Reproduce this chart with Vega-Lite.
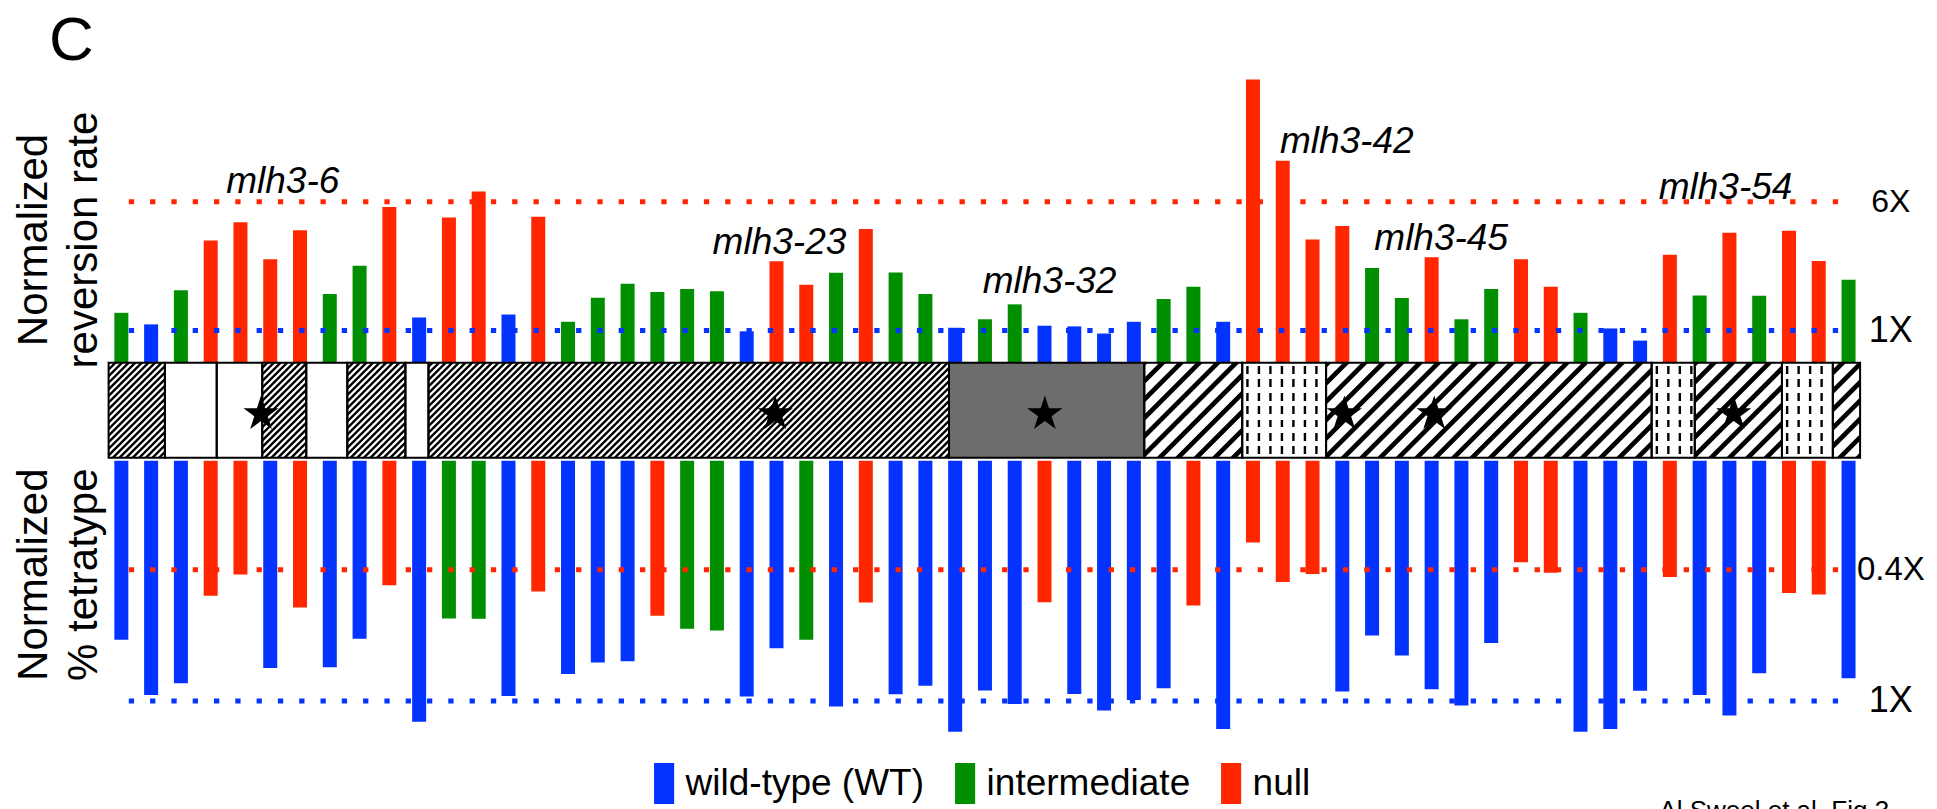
{
  "$schema": "https://vega.github.io/schema/vega-lite/v6.json",
  "background": "white",
  "autosize": {"type": "none"},
  "padding": {"left": 108.6, "top": 72.7, "right": 1828.4, "bottom": 736.3},
  "config": {
    "view": {"stroke": null},
    "font": "Liberation Sans",
    "text": {"font": "Liberation Sans", "color": "black"}
  },
  "datasets": {
    "alleles": [
      {"allele": 1, "rev": 1.28, "revClass": "intermediate", "tet": 0.653, "tetClass": "wild-type (WT)"},
      {"allele": 2, "rev": 1.09, "revClass": "wild-type (WT)", "tet": 0.959, "tetClass": "wild-type (WT)"},
      {"allele": 3, "rev": 1.75, "revClass": "intermediate", "tet": 0.884, "tetClass": "wild-type (WT)"},
      {"allele": 4, "rev": 3.50, "revClass": "null", "tet": 0.480, "tetClass": "null"},
      {"allele": 5, "rev": 4.50, "revClass": "null", "tet": 0.414, "tetClass": "null"},
      {"allele": 6, "rev": 2.69, "revClass": "null", "tet": 0.795, "tetClass": "wild-type (WT)"},
      {"allele": 7, "rev": 4.03, "revClass": "null", "tet": 0.521, "tetClass": "null"},
      {"allele": 8, "rev": 1.66, "revClass": "intermediate", "tet": 0.790, "tetClass": "wild-type (WT)"},
      {"allele": 9, "rev": 2.46, "revClass": "intermediate", "tet": 0.648, "tetClass": "wild-type (WT)"},
      {"allele": 10, "rev": 5.57, "revClass": "null", "tet": 0.446, "tetClass": "null"},
      {"allele": 11, "rev": 1.20, "revClass": "wild-type (WT)", "tet": 1.156, "tetClass": "wild-type (WT)"},
      {"allele": 12, "rev": 4.82, "revClass": "null", "tet": 0.563, "tetClass": "intermediate"},
      {"allele": 13, "rev": 6.90, "revClass": "null", "tet": 0.564, "tetClass": "intermediate"},
      {"allele": 14, "rev": 1.25, "revClass": "wild-type (WT)", "tet": 0.966, "tetClass": "wild-type (WT)"},
      {"allele": 15, "rev": 4.87, "revClass": "null", "tet": 0.466, "tetClass": "null"},
      {"allele": 16, "rev": 1.13, "revClass": "intermediate", "tet": 0.828, "tetClass": "wild-type (WT)"},
      {"allele": 17, "rev": 1.58, "revClass": "intermediate", "tet": 0.765, "tetClass": "wild-type (WT)"},
      {"allele": 18, "rev": 1.92, "revClass": "intermediate", "tet": 0.758, "tetClass": "wild-type (WT)"},
      {"allele": 19, "rev": 1.71, "revClass": "intermediate", "tet": 0.552, "tetClass": "null"},
      {"allele": 20, "rev": 1.78, "revClass": "intermediate", "tet": 0.604, "tetClass": "intermediate"},
      {"allele": 21, "rev": 1.73, "revClass": "intermediate", "tet": 0.612, "tetClass": "intermediate"},
      {"allele": 22, "rev": 0.99, "revClass": "wild-type (WT)", "tet": 0.970, "tetClass": "wild-type (WT)"},
      {"allele": 23, "rev": 2.62, "revClass": "null", "tet": 0.692, "tetClass": "wild-type (WT)"},
      {"allele": 24, "rev": 1.89, "revClass": "null", "tet": 0.653, "tetClass": "intermediate"},
      {"allele": 25, "rev": 2.23, "revClass": "intermediate", "tet": 1.040, "tetClass": "wild-type (WT)"},
      {"allele": 26, "rev": 4.10, "revClass": "null", "tet": 0.503, "tetClass": "null"},
      {"allele": 27, "rev": 2.24, "revClass": "intermediate", "tet": 0.954, "tetClass": "wild-type (WT)"},
      {"allele": 28, "rev": 1.66, "revClass": "intermediate", "tet": 0.900, "tetClass": "wild-type (WT)"},
      {"allele": 29, "rev": 1.04, "revClass": "wild-type (WT)", "tet": 1.239, "tetClass": "wild-type (WT)"},
      {"allele": 30, "rev": 1.17, "revClass": "intermediate", "tet": 0.930, "tetClass": "wild-type (WT)"},
      {"allele": 31, "rev": 1.44, "revClass": "intermediate", "tet": 1.021, "tetClass": "wild-type (WT)"},
      {"allele": 32, "rev": 1.07, "revClass": "wild-type (WT)", "tet": 0.502, "tetClass": "null"},
      {"allele": 33, "rev": 1.06, "revClass": "wild-type (WT)", "tet": 0.953, "tetClass": "wild-type (WT)"},
      {"allele": 34, "rev": 0.96, "revClass": "wild-type (WT)", "tet": 1.070, "tetClass": "wild-type (WT)"},
      {"allele": 35, "rev": 1.13, "revClass": "wild-type (WT)", "tet": 0.993, "tetClass": "wild-type (WT)"},
      {"allele": 36, "rev": 1.55, "revClass": "intermediate", "tet": 0.915, "tetClass": "wild-type (WT)"},
      {"allele": 37, "rev": 1.84, "revClass": "intermediate", "tet": 0.514, "tetClass": "null"},
      {"allele": 38, "rev": 1.13, "revClass": "wild-type (WT)", "tet": 1.216, "tetClass": "wild-type (WT)"},
      {"allele": 39, "rev": 32.8, "revClass": "null", "tet": 0.331, "tetClass": "null"},
      {"allele": 40, "rev": 10.6, "revClass": "null", "tet": 0.436, "tetClass": "null"},
      {"allele": 41, "rev": 3.54, "revClass": "null", "tet": 0.412, "tetClass": "null"},
      {"allele": 42, "rev": 4.28, "revClass": "null", "tet": 0.937, "tetClass": "wild-type (WT)"},
      {"allele": 43, "rev": 2.39, "revClass": "intermediate", "tet": 0.633, "tetClass": "wild-type (WT)"},
      {"allele": 44, "rev": 1.57, "revClass": "intermediate", "tet": 0.728, "tetClass": "wild-type (WT)"},
      {"allele": 45, "rev": 2.77, "revClass": "null", "tet": 0.921, "tetClass": "wild-type (WT)"},
      {"allele": 46, "rev": 1.17, "revClass": "intermediate", "tet": 1.033, "tetClass": "wild-type (WT)"},
      {"allele": 47, "rev": 1.78, "revClass": "intermediate", "tet": 0.668, "tetClass": "wild-type (WT)"},
      {"allele": 48, "rev": 2.69, "revClass": "null", "tet": 0.380, "tetClass": "null"},
      {"allele": 49, "rev": 1.84, "revClass": "null", "tet": 0.409, "tetClass": "null"},
      {"allele": 50, "rev": 1.28, "revClass": "intermediate", "tet": 1.239, "tetClass": "wild-type (WT)"},
      {"allele": 51, "rev": 1.03, "revClass": "wild-type (WT)", "tet": 1.216, "tetClass": "wild-type (WT)"},
      {"allele": 52, "rev": 0.87, "revClass": "wild-type (WT)", "tet": 0.932, "tetClass": "wild-type (WT)"},
      {"allele": 53, "rev": 2.87, "revClass": "null", "tet": 0.421, "tetClass": "null"},
      {"allele": 54, "rev": 1.63, "revClass": "intermediate", "tet": 0.959, "tetClass": "wild-type (WT)"},
      {"allele": 55, "rev": 3.90, "revClass": "null", "tet": 1.108, "tetClass": "wild-type (WT)"},
      {"allele": 56, "rev": 1.62, "revClass": "intermediate", "tet": 0.824, "tetClass": "wild-type (WT)"},
      {"allele": 57, "rev": 4.01, "revClass": "null", "tet": 0.471, "tetClass": "null"},
      {"allele": 58, "rev": 2.63, "revClass": "null", "tet": 0.476, "tetClass": "null"},
      {"allele": 59, "rev": 2.03, "revClass": "intermediate", "tet": 0.853, "tetClass": "wild-type (WT)"}
    ],
    "levels": [
      {"measure": "rev", "fold": 6, "label": "6X", "ref": "null"},
      {"measure": "rev", "fold": 1, "label": "1X", "ref": "wild-type (WT)"},
      {"measure": "tet", "fold": 0.4, "label": "0.4X", "ref": "null"},
      {"measure": "tet", "fold": 1, "label": "1X", "ref": "wild-type (WT)"}
    ],
    "tags": [
      {"name": "mlh3-6", "pos": 6.42, "level": 6.79},
      {"name": "mlh3-23", "pos": 23.1, "level": 2.9},
      {"name": "mlh3-32", "pos": 32.17, "level": 1.69},
      {"name": "mlh3-42", "pos": 42.15, "level": 11.8},
      {"name": "mlh3-45", "pos": 45.32, "level": 3.05},
      {"name": "mlh3-54", "pos": 54.87, "level": 6.24}
    ],
    "domains": [
      {"start": 0.74, "end": 2.62, "kind": "fine"},
      {"start": 2.62, "end": 4.35, "kind": "open"},
      {"start": 4.35, "end": 5.87, "kind": "open"},
      {"start": 5.87, "end": 7.34, "kind": "fine"},
      {"start": 7.34, "end": 8.71, "kind": "open"},
      {"start": 8.71, "end": 10.65, "kind": "fine"},
      {"start": 10.65, "end": 11.42, "kind": "open"},
      {"start": 11.42, "end": 28.8, "kind": "fine"},
      {"start": 28.8, "end": 35.32, "kind": "solid"},
      {"start": 35.32, "end": 38.59, "kind": "coarse"},
      {"start": 38.59, "end": 41.39, "kind": "dashed"},
      {"start": 41.39, "end": 52.26, "kind": "coarse"},
      {"start": 52.26, "end": 53.7, "kind": "dashed"},
      {"start": 53.7, "end": 56.61, "kind": "coarse"},
      {"start": 56.61, "end": 58.31, "kind": "dashed"},
      {"start": 58.31, "end": 59.22, "kind": "coarse"}
    ],
    "sites": [
      {"pos": 5.83}, {"pos": 23.0}, {"pos": 32.0}, {"pos": 42.0}, {"pos": 45.0}, {"pos": 55.0}
    ]
  },
  "bounds": "flush",
  "spacing": 0,
  "resolve": {"scale": {"x": "independent", "y": "independent", "color": "shared"}},
  "vconcat": [
    {
      "width": 1751.5,
      "height": 290,
      "title": {
        "text": "C",
        "orient": "top",
        "anchor": "start",
        "frame": "group",
        "font": "Liberation Sans",
        "fontSize": 62,
        "fontWeight": "normal",
        "color": "black",
        "baseline": "alphabetic",
        "dx": -59.6,
        "offset": -48.9
      },
      "layer": [
        {
          "data": {"name": "alleles"},
          "mark": {"type": "bar", "size": 14},
          "encoding": {
            "x": {"field": "allele", "type": "quantitative", "scale": {"domain": [0.74, 59.22], "nice": false, "zero": false}, "axis": null},
            "y": {
              "field": "rev", "type": "quantitative",
              "scale": {"type": "log", "domain": [0.64, 36], "nice": false},
              "axis": {
                "title": ["Normalized", "reversion rate"],
                "labels": false, "ticks": false, "domain": false, "grid": false,
                "titleFont": "Liberation Sans", "titleFontSize": 42, "titleFontWeight": "normal", "titleColor": "black",
                "titleLineHeight": 50.7, "titleAngle": 270, "titleAlign": "center", "titleBaseline": "alphabetic",
                "titleX": -62.6, "titleY": 166.8
              }
            },
            "y2": {"datum": 0.64},
            "color": {
              "field": "revClass", "type": "nominal",
              "scale": {"domain": ["wild-type (WT)", "intermediate", "null"], "range": ["#0433FF", "#008F00", "#FF2600"]},
              "legend": {
                "title": null, "orient": "none", "direction": "horizontal", "legendX": 535, "legendY": 690.3,
                "padding": 0, "symbolType": "M-0.49,-1H0.49V1H-0.49Z", "symbolSize": 1681, "symbolStrokeWidth": 0,
                "labelFont": "Liberation Sans", "labelFontSize": 37, "labelColor": "black", "labelOffset": 1,
                "columnPadding": 20, "labelLimit": 400
              }
            }
          }
        },
        {
          "data": {"name": "levels"},
          "transform": [{"filter": "datum.measure === 'rev'"}],
          "mark": {"type": "rule", "strokeWidth": 5, "strokeDash": [5.3, 16]},
          "encoding": {
            "x": {"datum": 1.25},
            "x2": {"datum": 59.05},
            "y": {"field": "fold", "type": "quantitative"},
            "color": {"field": "ref", "type": "nominal", "legend": null}
          }
        },
        {
          "data": {"name": "levels"},
          "transform": [{"filter": "datum.measure === 'rev'"}],
          "mark": {"type": "text", "align": "center", "baseline": "middle", "font": "Liberation Sans"},
          "encoding": {
            "x": {"datum": 60.42},
            "y": {"field": "fold", "type": "quantitative"},
            "text": {"field": "label"},
            "size": {"condition": {"test": "datum.label === '1X'", "value": 36}, "value": 32}
          }
        },
        {
          "data": {"name": "tags"},
          "mark": {"type": "text", "align": "center", "baseline": "alphabetic", "fontStyle": "italic", "fontSize": 37, "font": "Liberation Sans"},
          "encoding": {
            "x": {"field": "pos", "type": "quantitative"},
            "y": {"field": "level", "type": "quantitative"},
            "text": {"field": "name"}
          }
        }
      ]
    },
    {
      "bounds": "flush",
      "spacing": 3,
      "resolve": {"scale": {"x": "independent", "y": "independent", "color": "shared"}},
      "vconcat": [
        {
          "width": 1751.5,
          "height": 95,
          "layer": [
            {
              "data": {"values": [{"pattern": "fine"}]},
              "mark": {"type": "rule", "clip": true, "color": "black", "strokeWidth": 700, "strokeDash": [2.4, 2.27]},
              "encoding": {
                "x": {"datum": 6.603, "type": "quantitative", "scale": {"domain": [0.74, 59.22], "nice": false, "zero": false}, "axis": null},
                "x2": {"datum": 22.917},
                "y": {"datum": 3.072, "type": "quantitative", "scale": {"domain": [0, 1], "nice": false}, "axis": null},
                "y2": {"datum": -2.072}
              }
            },
            {
              "data": {"values": [{"pattern": "coarse"}]},
              "mark": {"type": "rule", "clip": true, "color": "black", "strokeWidth": 600, "strokeDash": [4.7, 8.3]},
              "encoding": {
                "x": {"datum": 40.14, "type": "quantitative", "scale": {"domain": [0.74, 59.22], "nice": false, "zero": false}, "axis": null},
                "x2": {"datum": 54.4},
                "y": {"datum": 2.748, "type": "quantitative", "scale": {"domain": [0, 1], "nice": false}, "axis": null},
                "y2": {"datum": -1.747}
              }
            },
            {
              "data": {"name": "domains"},
              "transform": [{"filter": "datum.kind === 'open' || datum.kind === 'solid' || datum.kind === 'dashed'"}],
              "mark": {"type": "rect"},
              "encoding": {
                "x": {"field": "start", "type": "quantitative", "scale": {"domain": [0.74, 59.22], "nice": false, "zero": false}, "axis": null},
                "x2": {"field": "end"},
                "y": {"datum": 0, "type": "quantitative", "scale": {"domain": [0, 1], "nice": false}, "axis": null},
                "y2": {"datum": 1},
                "fill": {"field": "kind", "type": "nominal", "scale": {"domain": ["open", "solid", "dashed"], "range": ["#ffffff", "#6d6d6d", "#ffffff"]}, "legend": null}
              }
            },
            {
              "data": {"name": "domains"},
              "transform": [{"filter": "datum.kind === 'dashed'"}],
              "mark": {"type": "rule", "color": "black", "strokeWidth": 95, "strokeDash": [2.4, 9.1], "strokeDashOffset": -4},
              "encoding": {
                "x": {"field": "start", "type": "quantitative", "scale": {"domain": [0.74, 59.22], "nice": false, "zero": false}, "axis": null},
                "x2": {"field": "end"},
                "y": {"datum": 0.5, "type": "quantitative", "scale": {"domain": [0, 1], "nice": false}, "axis": null}
              }
            },
            {
              "data": {"name": "domains"},
              "transform": [{"filter": "datum.kind === 'dashed'"}],
              "mark": {
                "type": "rect",
                "fill": {
                  "gradient": "linear", "x1": 0, "y1": 0, "x2": 0, "y2": 1,
                  "stops": [
                    {"offset": 0, "color": "#ffffff"}, {"offset": 0.03, "color": "#ffffff"},
                    {"offset": 0.03, "color": "rgba(255,255,255,0)"}, {"offset": 0.114, "color": "rgba(255,255,255,0)"},
                    {"offset": 0.114, "color": "#ffffff"}, {"offset": 0.172, "color": "#ffffff"},
                    {"offset": 0.172, "color": "rgba(255,255,255,0)"}, {"offset": 0.256, "color": "rgba(255,255,255,0)"},
                    {"offset": 0.256, "color": "#ffffff"}, {"offset": 0.314, "color": "#ffffff"},
                    {"offset": 0.314, "color": "rgba(255,255,255,0)"}, {"offset": 0.398, "color": "rgba(255,255,255,0)"},
                    {"offset": 0.398, "color": "#ffffff"}, {"offset": 0.456, "color": "#ffffff"},
                    {"offset": 0.456, "color": "rgba(255,255,255,0)"}, {"offset": 0.54, "color": "rgba(255,255,255,0)"},
                    {"offset": 0.54, "color": "#ffffff"}, {"offset": 0.598, "color": "#ffffff"},
                    {"offset": 0.598, "color": "rgba(255,255,255,0)"}, {"offset": 0.682, "color": "rgba(255,255,255,0)"},
                    {"offset": 0.682, "color": "#ffffff"}, {"offset": 0.74, "color": "#ffffff"},
                    {"offset": 0.74, "color": "rgba(255,255,255,0)"}, {"offset": 0.824, "color": "rgba(255,255,255,0)"},
                    {"offset": 0.824, "color": "#ffffff"}, {"offset": 0.882, "color": "#ffffff"},
                    {"offset": 0.882, "color": "rgba(255,255,255,0)"}, {"offset": 0.966, "color": "rgba(255,255,255,0)"},
                    {"offset": 0.966, "color": "#ffffff"}, {"offset": 1, "color": "#ffffff"}
                  ]
                }
              },
              "encoding": {
                "x": {"field": "start", "type": "quantitative", "scale": {"domain": [0.74, 59.22], "nice": false, "zero": false}, "axis": null},
                "x2": {"field": "end"},
                "y": {"datum": 0, "type": "quantitative", "scale": {"domain": [0, 1], "nice": false}, "axis": null},
                "y2": {"datum": 1}
              }
            },
            {
              "data": {"name": "domains"},
              "mark": {"type": "rect", "fill": "transparent", "stroke": "black", "strokeWidth": 2},
              "encoding": {
                "x": {"field": "start", "type": "quantitative", "scale": {"domain": [0.74, 59.22], "nice": false, "zero": false}, "axis": null},
                "x2": {"field": "end"},
                "y": {"datum": 0, "type": "quantitative", "scale": {"domain": [0, 1], "nice": false}, "axis": null},
                "y2": {"datum": 1}
              }
            },
            {
              "data": {"name": "sites"},
              "mark": {
                "type": "point", "filled": true, "color": "black", "opacity": 1, "size": 1369, "strokeWidth": 0,
                "shape": "M0,-1L0.2245,-0.309L0.951,-0.309L0.363,0.118L0.588,0.809L0,0.382L-0.588,0.809L-0.363,0.118L-0.951,-0.309L-0.2245,-0.309Z"
              },
              "encoding": {
                "x": {"field": "pos", "type": "quantitative", "scale": {"domain": [0.74, 59.22], "nice": false, "zero": false}, "axis": null},
                "y": {"datum": 0.46, "type": "quantitative", "scale": {"domain": [0, 1], "nice": false}, "axis": null}
              }
            }
          ]
        },
        {
          "width": 1751.5,
          "height": 280,
          "title": {
            "text": "Al Sweel et al. Fig 3",
            "orient": "bottom",
            "anchor": "end",
            "frame": "group",
            "font": "Liberation Sans",
            "fontSize": 26,
            "fontWeight": "normal",
            "color": "black",
            "baseline": "top",
            "dx": 29,
            "offset": 57
          },
          "layer": [
            {
              "data": {"name": "alleles"},
              "mark": {"type": "bar", "size": 14},
              "encoding": {
                "x": {"field": "allele", "type": "quantitative", "scale": {"domain": [0.74, 59.22], "nice": false, "zero": false}, "axis": null},
                "y": {
                  "field": "tet", "type": "quantitative",
                  "scale": {"type": "log", "domain": [0.187, 1.32], "nice": false, "reverse": true},
                  "axis": {
                    "title": ["Normalized", "% tetratype"],
                    "labels": false, "ticks": false, "domain": false, "grid": false,
                    "titleFont": "Liberation Sans", "titleFontSize": 42, "titleFontWeight": "normal", "titleColor": "black",
                    "titleLineHeight": 50.7, "titleAngle": 270, "titleAlign": "center", "titleBaseline": "alphabetic",
                    "titleX": -62.6, "titleY": 113.5
                  }
                },
                "y2": {"datum": 0.187},
                "color": {
                  "field": "tetClass", "type": "nominal",
                  "scale": {"domain": ["wild-type (WT)", "intermediate", "null"], "range": ["#0433FF", "#008F00", "#FF2600"]},
                  "legend": {
                    "title": null, "orient": "none", "direction": "horizontal", "legendX": 535, "legendY": 690.3,
                    "padding": 0, "symbolType": "M-0.49,-1H0.49V1H-0.49Z", "symbolSize": 1681, "symbolStrokeWidth": 0,
                    "labelFont": "Liberation Sans", "labelFontSize": 37, "labelColor": "black", "labelOffset": 1,
                    "columnPadding": 20, "labelLimit": 400
                  }
                }
              }
            },
            {
              "data": {"name": "levels"},
              "transform": [{"filter": "datum.measure === 'tet'"}],
              "mark": {"type": "rule", "strokeWidth": 5, "strokeDash": [5.3, 16]},
              "encoding": {
                "x": {"datum": 1.25},
                "x2": {"datum": 59.05},
                "y": {"field": "fold", "type": "quantitative"},
                "color": {"field": "ref", "type": "nominal", "legend": null}
              }
            },
            {
              "data": {"name": "levels"},
              "transform": [{"filter": "datum.measure === 'tet'"}],
              "mark": {"type": "text", "align": "center", "baseline": "middle", "font": "Liberation Sans"},
              "encoding": {
                "x": {"datum": 60.42},
                "y": {"field": "fold", "type": "quantitative"},
                "text": {"field": "label"},
                "size": {"condition": {"test": "datum.label === '1X'", "value": 36}, "value": 33}
              }
            }
          ]
        }
      ]
    }
  ]
}
